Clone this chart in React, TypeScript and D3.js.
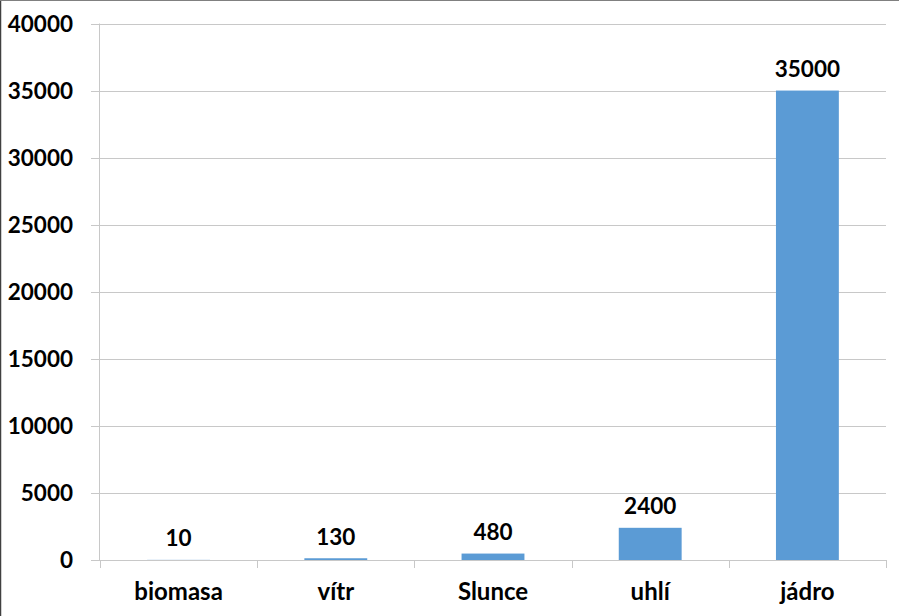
import React from "react";
import * as d3 from "d3";

const categories = ["biomasa", "vítr", "Slunce", "uhlí", "jádro"];
const values = [10, 130, 480, 2400, 35000];
const yTicks = [0, 5000, 10000, 15000, 20000, 25000, 30000, 35000, 40000];

const W = 899;
const H = 616;
const left = 100;
const right = 886;
const top = 23.5;
const bottom = 560;
const FONT = "Lato, 'Open Sans', sans-serif";

export default function App() {
  const x = d3.scaleBand<string>().domain(categories).range([left, right]).padding(0);
  const y = d3.scaleLinear().domain([0, 40000]).range([bottom, top]);
  const bw = x.bandwidth() * 0.4;
  const boundaries = [...categories.map((c) => x(c) as number), right];

  return (
    <svg width={W} height={H} style={{ position: "absolute", left: 0, top: 0, background: "#fff" }}>
      <rect x={0} y={0} width={W} height={H} fill="#fff" />
      <line x1={0.5} y1={0} x2={0.5} y2={H} stroke="#404040" strokeWidth={1.5} />
      <line x1={0} y1={0.5} x2={W} y2={0.5} stroke="#808080" strokeWidth={1} />
      {yTicks.map((t) => (
        <g key={t}>
          <line x1={91} x2={right} y1={Math.round(y(t)) + 0.5} y2={Math.round(y(t)) + 0.5} stroke="#c8c8c8" strokeWidth={1} />
          <text x={73} y={y(t)} dy="0.36em" textAnchor="end" fontFamily={FONT} fontWeight={700} fontSize={22.5} fill="#000">
            {t}
          </text>
        </g>
      ))}
      <line x1={left - 0.5} x2={left - 0.5} y1={top} y2={bottom} stroke="#c8c8c8" strokeWidth={1} />
      {boundaries.map((b, i) => (
        <line key={i} x1={Math.round(b) + 0.5} x2={Math.round(b) + 0.5} y1={bottom} y2={bottom + 8} stroke="#c8c8c8" strokeWidth={1} />
      ))}
      {categories.map((c, i) => {
        const cx = (x(c) as number) + x.bandwidth() / 2;
        const yTop = y(values[i]);
        return (
          <g key={c}>
            <rect x={cx - bw / 2} y={yTop} width={bw} height={bottom - yTop} fill="#5b9bd5" />
            <text x={cx} y={yTop - 13.5} textAnchor="middle" fontFamily={FONT} fontWeight={700} fontSize={22.5} fill="#000">
              {values[i]}
            </text>
            <text x={cx} y={600} textAnchor="middle" fontFamily={FONT} fontWeight={700} fontSize={24} fill="#000">
              {c}
            </text>
          </g>
        );
      })}
    </svg>
  );
}
